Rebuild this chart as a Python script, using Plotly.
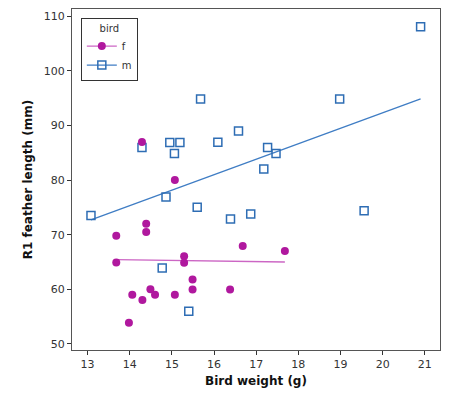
import numpy as np
import plotly.graph_objects as go

# Female birds
f_weight = [14.29, 15.07, 14.39, 14.39, 13.68, 13.68, 15.29, 15.29, 14.49, 14.60,
            14.06, 14.30, 15.07, 13.98, 15.49, 15.49, 16.38, 16.68, 17.68]
f_r1 = [86.97, 80.0, 72.0, 70.5, 69.8, 64.9, 66.05, 64.85, 60.0, 59.03,
        59.03, 58.05, 59.03, 53.9, 61.8, 59.95, 59.95, 67.94, 67.03]

# Male birds
m_weight = [13.08, 14.29, 14.95, 15.19, 15.06, 14.86, 15.68, 16.09, 16.58, 17.27,
            17.47, 17.18, 15.60, 16.39, 16.87, 19.56, 18.98, 20.90, 14.77, 15.40]
m_r1 = [73.5, 85.95, 86.85, 86.85, 84.85, 76.9, 94.85, 86.9, 88.97, 85.95,
        84.85, 82.0, 75.0, 72.85, 73.8, 74.4, 94.85, 108.05, 63.9, 56.0]

x_ticks = [13, 14, 15, 16, 17, 18, 19, 20, 21]
y_ticks = [50, 60, 70, 80, 90, 100, 110]

F_COL = "#B0189E"
F_LINE = "#CC66C4"
M_COL = "#2E6DB4"
M_LINE = "#3F7DC4"

def fit(xs, ys):
    xs = np.array(xs); ys = np.array(ys)
    b, a = np.polyfit(xs, ys, 1)
    lx = np.array([xs.min(), xs.max()])
    return lx, a + b * lx

fig = go.Figure()

flx, fly = fit(f_weight, f_r1)
mlx, mly = fit(m_weight, m_r1)

fig.add_trace(go.Scatter(x=mlx, y=mly, mode="lines", line=dict(color=M_LINE, width=1.3),
                         showlegend=False, hoverinfo="skip"))
fig.add_trace(go.Scatter(x=flx, y=fly, mode="lines", line=dict(color=F_LINE, width=1.3),
                         showlegend=False, hoverinfo="skip"))
fig.add_trace(go.Scatter(x=m_weight, y=m_r1, mode="markers", showlegend=False,
                         marker=dict(symbol="square-open", size=8, color=M_COL,
                                     line=dict(width=1.5, color=M_COL))))
fig.add_trace(go.Scatter(x=f_weight, y=f_r1, mode="markers", showlegend=False,
                         marker=dict(symbol="circle", size=8, color=F_COL,
                                     line=dict(width=0))))
# legend entries
fig.add_trace(go.Scatter(x=[None], y=[None], mode="lines+markers", name="f",
                         line=dict(color=F_LINE, width=1.3),
                         marker=dict(symbol="circle", size=8, color=F_COL)))
fig.add_trace(go.Scatter(x=[None], y=[None], mode="lines+markers", name="m",
                         line=dict(color=M_LINE, width=1.3),
                         marker=dict(symbol="square-open", size=8, color=M_COL,
                                     line=dict(width=1.5, color=M_COL))))

fig.update_layout(
    width=453, height=394,
    margin=dict(l=72, r=13, t=8, b=43),
    paper_bgcolor="white", plot_bgcolor="white",
    font=dict(family="DejaVu Sans", size=11, color="#333333"),
    showlegend=True,
    legend=dict(x=0.024, y=0.975, xanchor="left", yanchor="top",
                bordercolor="#333333", borderwidth=1, bgcolor="white",
                title=dict(text="bird", side="top center", font=dict(size=10)),
                font=dict(size=10), tracegroupgap=0, itemwidth=30),
)
fig.update_xaxes(range=[12.63, 21.36], tickvals=x_ticks, ticks="outside", ticklen=4,
                 tickcolor="#333333", showgrid=False, zeroline=False,
                 showline=True, linecolor="#555555", linewidth=1, mirror=True,
                 title=dict(text="<b>Bird weight (g)</b>", font=dict(size=12, color="#111111"),
                            standoff=6))
fig.update_yaxes(range=[48.9, 111.3], tickvals=y_ticks, ticks="outside", ticklen=4,
                 tickcolor="#333333", showgrid=False, zeroline=False,
                 showline=True, linecolor="#555555", linewidth=1, mirror=True,
                 title=dict(text="<b>R1 feather length (mm)</b>", font=dict(size=12, color="#111111"),
                            standoff=8))

fig.write_html("out.html", config={"displayModeBar": False},
               post_script="document.body.style.margin='0';")
